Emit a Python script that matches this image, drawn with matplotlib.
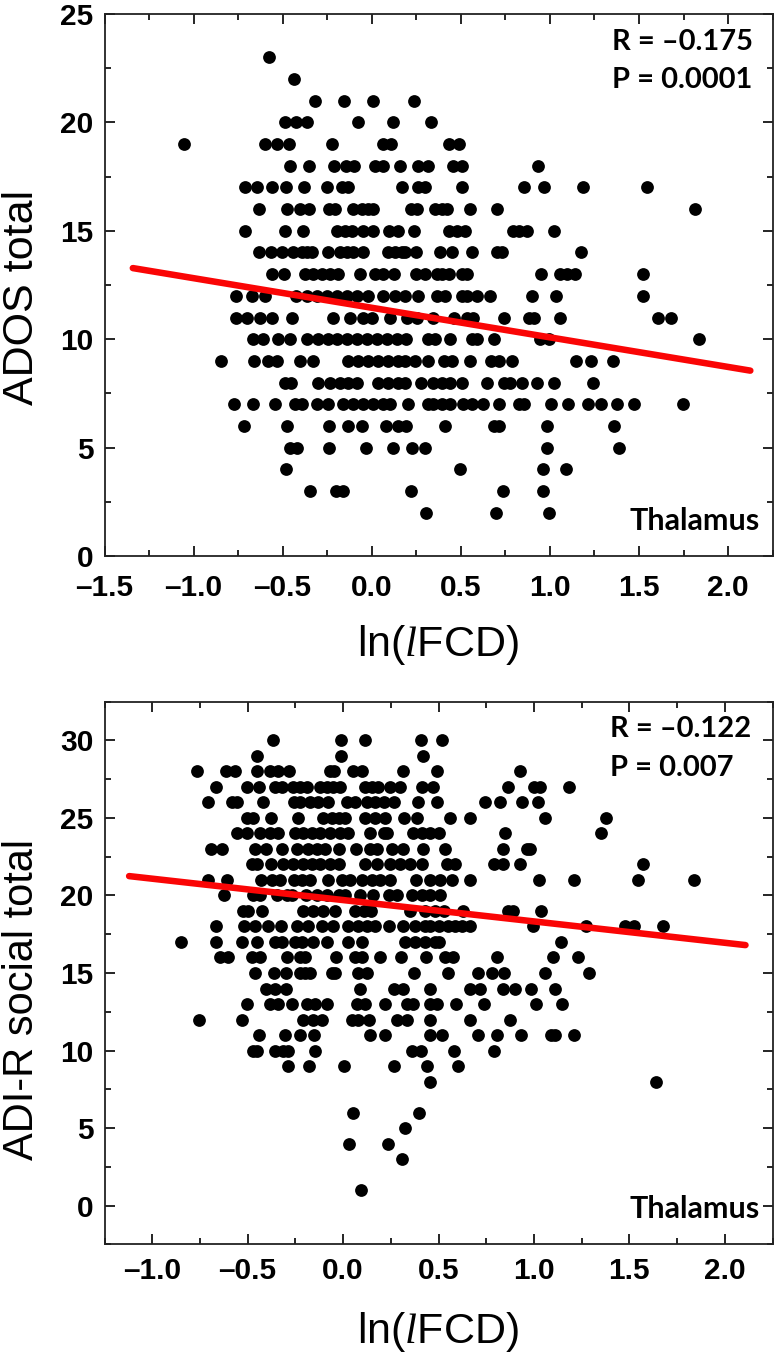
import matplotlib
matplotlib.use('Agg')
import matplotlib.pyplot as plt
from matplotlib.ticker import MultipleLocator

W, H = 774, 1353

# ADOS total score -> ln(lFCD) values
ados_rows = {
    23: [-0.575],
    22: [-0.436],
    21: [-0.318, -0.154, 0.009, 0.236],
    20: [-0.485, -0.425, -0.365, -0.079, 0.118, 0.335],
    19: [-1.052, -0.599, -0.530, -0.464, -0.221, 0.062, 0.107, 0.431, 0.492],
    18: [-0.461, -0.352, -0.212, -0.144, -0.099, 0.019, 0.062, 0.157, 0.257, 0.318, 0.455, 0.506, 0.936],
    17: [-0.710, -0.642, -0.560, -0.479, -0.378, -0.253, -0.167, -0.131, 0.172, 0.262, 0.300, 0.506, 0.852, 0.966, 1.184, 1.545],
    16: [-0.635, -0.476, -0.403, -0.352, -0.238, -0.204, -0.103, -0.056, -0.019, 0.009, 0.221, 0.253, 0.356, 0.393, 0.421, 0.551, 0.704, 1.816],
    15: [-0.710, -0.489, -0.384, -0.193, -0.150, -0.112, -0.047, 0.006, 0.099, 0.150, 0.238, 0.431, 0.478, 0.525, 0.792, 0.824, 0.874, 1.021],
    14: [-0.631, -0.567, -0.504, -0.444, -0.393, -0.365, -0.337, -0.247, -0.178, -0.140, -0.103, -0.047, 0.094, 0.131, 0.169, 0.187, 0.247, 0.384, 0.449, 0.564, 0.702, 0.730, 1.174],
    13: [-0.562, -0.491, -0.375, -0.328, -0.281, -0.234, -0.187, -0.066, 0.019, 0.066, 0.125, 0.249, 0.300, 0.365, 0.393, 0.431, 0.506, 0.534, 0.951, 1.058, 1.095, 1.142, 1.522],
    12: [-0.764, -0.672, -0.599, -0.427, -0.365, -0.309, -0.253, -0.197, -0.140, -0.084, -0.019, 0.066, 0.131, 0.187, 0.262, 0.365, 0.412, 0.506, 0.534, 0.590, 0.665, 0.899, 1.036, 1.521],
    11: [-0.762, -0.702, -0.627, -0.562, -0.449, -0.217, -0.122, -0.047, 0.000, 0.103, 0.197, 0.253, 0.346, 0.459, 0.534, 0.571, 0.740, 0.880, 0.908, 1.054, 1.605, 1.680],
    10: [-0.665, -0.609, -0.524, -0.459, -0.361, -0.300, -0.243, -0.197, -0.140, -0.084, -0.028, 0.028, 0.084, 0.140, 0.193, 0.318, 0.356, 0.440, 0.562, 0.590, 0.684, 0.946, 0.993, 1.835],
    9: [-0.848, -0.663, -0.584, -0.534, -0.403, -0.328, -0.131, -0.075, -0.019, 0.037, 0.094, 0.150, 0.187, 0.243, 0.313, 0.406, 0.449, 0.552, 0.670, 0.717, 0.787, 1.148, 1.230, 1.354],
    8: [-0.487, -0.455, -0.300, -0.234, -0.178, -0.131, -0.084, 0.037, 0.094, 0.150, 0.187, 0.275, 0.346, 0.393, 0.440, 0.506, 0.646, 0.743, 0.777, 0.843, 0.927, 1.024, 1.242],
    7: [-0.775, -0.665, -0.543, -0.431, -0.393, -0.305, -0.243, -0.159, -0.103, -0.047, 0.009, 0.066, 0.103, 0.202, 0.315, 0.346, 0.393, 0.440, 0.515, 0.562, 0.627, 0.712, 0.824, 0.852, 1.007, 1.101, 1.212, 1.286, 1.378, 1.474, 1.747],
    6: [-0.717, -0.476, -0.238, -0.135, -0.056, 0.079, 0.146, 0.193, 0.412, 0.684, 0.712, 0.983, 1.360],
    5: [-0.459, -0.421, -0.238, -0.034, 0.118, 0.225, 0.300, 0.983, 1.390],
    4: [-0.481, 0.496, 0.964, 1.090],
    3: [-0.345, -0.202, -0.159, 0.221, 0.734, 0.964],
    2: [0.305, 0.699, 0.996],
}

# ADI-R social total score -> ln(lFCD) values
adir_rows = {
    30: [-0.369, -0.012, 0.115, 0.407, 0.517],
    29: [-0.453, -0.010, 0.416],
    28: [-0.764, -0.614, -0.566, -0.451, -0.383, -0.339, -0.283, -0.068, -0.047, 0.054, 0.098, 0.313, 0.491, 0.928],
    27: [-0.664, -0.505, -0.441, -0.357, -0.322, -0.260, -0.225, -0.191, -0.121, -0.086, -0.051, -0.016, 0.115, 0.150, 0.185, 0.247, 0.299, 0.413, 0.469, 0.862, 0.998, 1.033, 1.185],
    26: [-0.708, -0.584, -0.558, -0.421, -0.257, -0.225, -0.173, -0.129, -0.077, 0.019, 0.063, 0.124, 0.168, 0.212, 0.264, 0.390, 0.491, 0.741, 0.820, 0.937, 1.021],
    25: [-0.505, -0.474, -0.379, -0.234, -0.103, -0.059, -0.024, 0.010, 0.115, 0.168, 0.220, 0.320, 0.386, 0.561, 0.666, 1.056, 1.378],
    24: [-0.558, -0.505, -0.435, -0.383, -0.339, -0.252, -0.208, -0.164, -0.121, -0.068, -0.016, 0.028, 0.142, 0.212, 0.229, 0.365, 0.413, 0.456, 0.500, 0.850, 1.353],
    23: [-0.694, -0.633, -0.462, -0.404, -0.322, -0.243, -0.182, -0.138, -0.094, -0.024, 0.066, 0.142, 0.177, 0.255, 0.316, 0.416, 0.535, 0.836, 0.963, 0.981],
    22: [-0.479, -0.453, -0.378, -0.313, -0.260, -0.208, -0.164, -0.121, -0.068, -0.024, 0.115, 0.177, 0.247, 0.299, 0.351, 0.413, 0.544, 0.587, 0.788, 0.838, 0.928, 1.570],
    21: [-0.706, -0.610, -0.432, -0.374, -0.330, -0.257, -0.217, -0.173, -0.080, -0.007, 0.037, 0.098, 0.150, 0.194, 0.247, 0.383, 0.456, 0.509, 0.573, 0.666, 1.024, 1.208, 1.546, 1.836],
    20: [-0.622, -0.470, -0.435, -0.348, -0.295, -0.269, -0.194, -0.138, -0.086, -0.024, 0.010, 0.086, 0.154, 0.238, 0.281, 0.360, 0.413, 0.456, 0.509],
    19: [-0.526, -0.497, -0.423, -0.208, -0.156, -0.103, -0.042, 0.063, 0.107, 0.145, 0.351, 0.430, 0.483, 0.526, 0.628, 0.862, 0.890, 1.037],
    18: [-0.664, -0.519, -0.462, -0.392, -0.325, -0.243, -0.182, -0.112, -0.051, 0.028, 0.080, 0.124, 0.168, 0.241, 0.316, 0.378, 0.430, 0.456, 0.500, 0.552, 0.587, 0.622, 0.666, 0.995, 1.274, 1.479, 1.526, 1.678],
    17: [-0.850, -0.664, -0.528, -0.449, -0.357, -0.322, -0.252, -0.217, -0.159, -0.082, 0.024, 0.101, 0.325, 0.378, 0.430, 0.483, 0.500, 1.142],
    16: [-0.645, -0.601, -0.479, -0.435, -0.295, -0.225, -0.199, -0.037, 0.063, 0.101, 0.191, 0.304, 0.435, 0.535, 0.575, 0.806, 1.098, 1.231],
    15: [-0.462, -0.362, -0.299, -0.226, -0.199, -0.173, -0.059, -0.042, 0.080, 0.124, 0.369, 0.552, 0.708, 0.780, 0.845, 1.058, 1.288],
    14: [-0.406, -0.357, -0.301, 0.089, 0.264, 0.316, 0.453, 0.663, 0.715, 0.838, 0.899, 0.984, 1.108],
    13: [-0.505, -0.383, -0.339, -0.269, -0.187, -0.147, -0.086, 0.072, 0.115, 0.220, 0.337, 0.365, 0.456, 0.491, 0.589, 0.736, 1.010, 1.145],
    12: [-0.757, -0.528, -0.208, -0.156, -0.112, 0.049, 0.080, 0.138, 0.281, 0.334, 0.453, 0.663, 0.876],
    11: [-0.439, -0.302, -0.226, -0.152, 0.142, 0.220, 0.456, 0.517, 0.708, 0.806, 0.930, 1.089, 1.108, 1.212],
    10: [-0.470, -0.449, -0.357, -0.313, -0.287, -0.147, 0.360, 0.407, 0.582, 0.792],
    9: [-0.287, -0.180, 0.003, 0.264, 0.442, 0.600],
    8: [0.453, 1.638],
    6: [0.054, 0.395],
    5: [0.325],
    4: [0.031, 0.234],
    3: [0.311],
    1: [0.093],
}

# fit lines, end points
ados_fit_x = [-1.341, 2.125]
ados_fit_y = [13.28, 8.55]
adir_fit_x = [-1.121, 2.108]
adir_fit_y = [21.25, 16.80]

ados_xticks = [-1.5, -1.0, -0.5, 0.0, 0.5, 1.0, 1.5, 2.0]
ados_xlabels = ['–1.5', '–1.0', '–0.5', '0.0', '0.5', '1.0', '1.5', '2.0']
adir_xticks = [-1.0, -0.5, 0.0, 0.5, 1.0, 1.5, 2.0]
adir_xlabels = ['–1.0', '–0.5', '0.0', '0.5', '1.0', '1.5', '2.0']

plt.rcParams['font.family'] = ['Liberation Sans', 'DejaVu Sans']
plt.rcParams['mathtext.fontset'] = 'custom'
plt.rcParams['mathtext.it'] = 'Liberation Serif:italic'
plt.rcParams['mathtext.rm'] = 'Liberation Sans'


def panel(fig, box, rows, fit_x, fit_y, xlim, ylim, xticks, xlabels, yticks, xpad):
    left, top, right, bottom = box
    ax = fig.add_axes([left / W, 1 - bottom / H, (right - left) / W, (bottom - top) / H])
    for score, values in rows.items():
        ax.plot(values, [score] * len(values), 'o', color='black', ms=9.2, mew=0, zorder=2)
    ax.plot(fit_x, fit_y, color='#fa0505', lw=4.7, solid_capstyle='round', zorder=3)
    ax.set_xlim(xlim)
    ax.set_ylim(ylim)
    ax.set_xticks(xticks)
    ax.set_xticklabels(xlabels, fontweight='bold', fontsize=21.5)
    ax.set_yticks(yticks)
    ax.set_yticklabels([str(t) for t in yticks], fontweight='bold', fontsize=21.5)
    ax.xaxis.set_minor_locator(MultipleLocator(0.25))
    ax.yaxis.set_minor_locator(MultipleLocator(2.5))
    ax.tick_params(which='major', direction='in', length=7.5, width=1.2, top=True, right=True)
    ax.tick_params(which='minor', direction='in', length=4, width=1.2, top=True, right=True)
    ax.tick_params(axis='x', which='major', pad=xpad)
    ax.tick_params(axis='y', which='major', pad=8)
    for s in ax.spines.values():
        s.set_linewidth(1.3)
        s.set_color('#222222')
    return ax


def label(fig, x, y, s, **kw):
    fig.text(x / W, 1 - y / H, s, **kw)


fig = plt.figure(figsize=(W / 100, H / 100), dpi=100)

panel(fig, (104.5, 14, 772.6, 556), ados_rows, ados_fit_x, ados_fit_y, (-1.5, 2.25), (0, 25),
      ados_xticks, ados_xlabels, [0, 5, 10, 15, 20, 25], 13)
panel(fig, (104.5, 701.7, 772.6, 1244.3), adir_rows, adir_fit_x, adir_fit_y, (-1.25, 2.25), (-2.5, 32.5),
      adir_xticks, adir_xlabels, [0, 5, 10, 15, 20, 25, 30], 9)

label(fig, 42, 297, 'ADOS total', fontsize=31, rotation=90, ha='right', va='center')
label(fig, 42, 1000, 'ADI-R social total', fontsize=30, rotation=90, ha='right', va='center')
label(fig, 438, 656, r'ln($\mathit{l}$FCD)', fontsize=31, ha='center', va='baseline')
label(fig, 438, 1343, r'ln($\mathit{l}$FCD)', fontsize=31, ha='center', va='baseline')

note = dict(fontsize=21, fontweight='bold', family=['Lato', 'DejaVu Sans'], va='baseline')
label(fig, 612.5, 50, 'R = –0.175', **note)
label(fig, 612.5, 88, 'P = 0.0001', **note)
label(fig, 610, 737, 'R = –0.122', **note)
label(fig, 610, 776, 'P = 0.007', **note)
note['fontsize'] = 22
label(fig, 630, 530, 'Thalamus', **note)
label(fig, 630, 1218, 'Thalamus', **note)

fig.savefig('out.png', dpi=100)
